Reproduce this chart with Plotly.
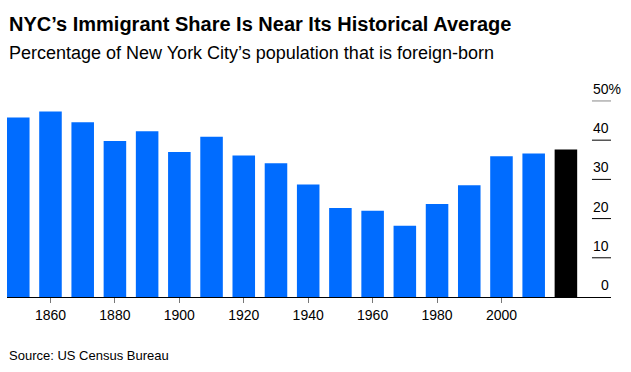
import plotly.graph_objects as go

years = [1850, 1860, 1870, 1880, 1890, 1900, 1910, 1920, 1930, 1940,
         1950, 1960, 1970, 1980, 1990, 2000, 2010, 2020]
share = [45.8, 47.3, 44.6, 39.8, 42.3, 37.0, 40.9, 36.1, 34.1, 28.7,
         22.7, 22.0, 18.2, 23.7, 28.5, 35.9, 36.6, 37.6]
x_ticks = [1860, 1880, 1900, 1920, 1940, 1960, 1980, 2000]
y_ticks = [0, 10, 20, 30, 40, 50]
y_labels = ["0", "10", "20", "30", "40", "50%"]

BLUE = "#006cff"
colors = [BLUE] * (len(years) - 1) + ["#000000"]
FONT = "Liberation Sans, Arial, sans-serif"

fig = go.Figure(go.Bar(x=years, y=share, marker=dict(color=colors, line=dict(width=0)),
                       width=7.0, hoverinfo="x+y"))

shapes = []
annotations = []
for v, lab in zip(y_ticks, y_labels):
    if v > 0:
        shapes.append(dict(type="line", xref="paper", yref="y", x0=0.9685, x1=1.0, y0=v, y1=v,
                           line=dict(color="#888888" if v == 50 else "#000000", width=1)))
    annotations.append(dict(text=lab, xref="paper", yref="y", x=1.0, y=v, xanchor="right",
                            yanchor="bottom", yshift=2, xshift=12 if lab.endswith("%") else 0,
                            showarrow=False,
                            font=dict(family=FONT, size=14, color="#000000")))

annotations += [
    dict(text="<b>NYC’s Immigrant Share Is Near Its Historical Average</b>", xref="paper", yref="paper",
         x=0, y=1.379, xanchor="left", yanchor="middle", showarrow=False,
         font=dict(family=FONT, size=20, color="#000000")),
    dict(text="Percentage of New York City’s population that is foreign-born", xref="paper", yref="paper",
         x=0, y=1.232, xanchor="left", yanchor="middle", showarrow=False,
         font=dict(family=FONT, size=18, color="#000000")),
    dict(text="Source: US Census Bureau", xref="paper", yref="paper",
         x=0, y=-0.293, xanchor="left", yanchor="middle", showarrow=False,
         font=dict(family=FONT, size=13, color="#000000")),
]

fig.update_layout(
    width=631, height=372,
    margin=dict(l=7, r=20, t=99, b=75),
    paper_bgcolor="white", plot_bgcolor="white",
    showlegend=False,
    shapes=shapes, annotations=annotations,
    xaxis=dict(range=[1846.5, 2034], tickvals=x_ticks, ticks="outside", ticklen=5,
               tickcolor="#777777", showline=True, linecolor="#000000", linewidth=1,
               showgrid=False, zeroline=False,
               tickfont=dict(family=FONT, size=14, color="#000000")),
    yaxis=dict(range=[0, 50.5], showticklabels=False, showgrid=False, zeroline=False,
               ticks=""),
)

fig.write_html("out.html", config={"displayModeBar": False},
               post_script="document.body.style.margin='0';")
